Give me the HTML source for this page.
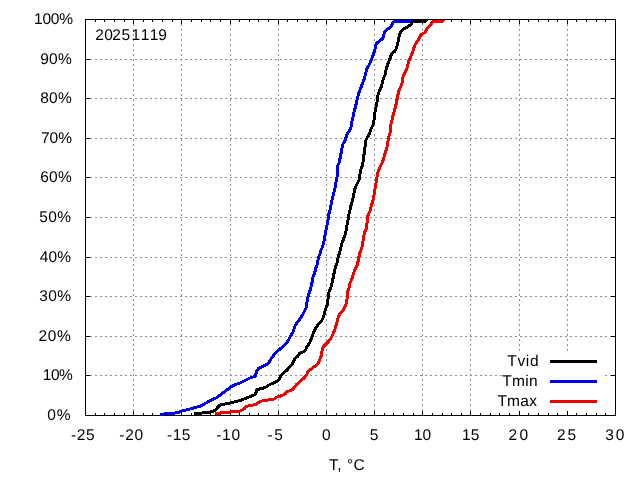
<!DOCTYPE html><html><head><meta charset="utf-8"><style>html,body{margin:0;padding:0;background:#fff;overflow:hidden}svg{display:block}</style></head><body><svg width="640" height="480" viewBox="0 0 640 480"><rect width="640" height="480" fill="#fff"/><path d="M133.5 19V415M181.5 19V415M230.5 19V415M278.5 19V415M326.5 19V415M374.5 19V415M422.5 19V415M470.5 19V415M519.5 19V415M567.5 19V415M85 375.5H615M85 336.5H615M85 296.5H615M85 257.5H615M85 217.5H615M85 177.5H615M85 138.5H615M85 98.5H615M85 59.5H615" stroke="#909090" stroke-width="1" stroke-dasharray="2 3" fill="none" shape-rendering="crispEdges"/><rect x="503" y="352" width="101" height="62" fill="#fff"/><path d="M85.5 415v-4M85.5 20v4M95.5 415v-2M95.5 20v2M104.5 415v-2M104.5 20v2M114.5 415v-2M114.5 20v2M124.5 415v-2M124.5 20v2M133.5 415v-4M133.5 20v4M143.5 415v-2M143.5 20v2M152.5 415v-2M152.5 20v2M162.5 415v-2M162.5 20v2M172.5 415v-2M172.5 20v2M181.5 415v-4M181.5 20v4M191.5 415v-2M191.5 20v2M201.5 415v-2M201.5 20v2M210.5 415v-2M210.5 20v2M220.5 415v-2M220.5 20v2M230.5 415v-4M230.5 20v4M239.5 415v-2M239.5 20v2M249.5 415v-2M249.5 20v2M258.5 415v-2M258.5 20v2M268.5 415v-2M268.5 20v2M278.5 415v-4M278.5 20v4M287.5 415v-2M287.5 20v2M297.5 415v-2M297.5 20v2M307.5 415v-2M307.5 20v2M316.5 415v-2M316.5 20v2M326.5 415v-4M326.5 20v4M336.5 415v-2M336.5 20v2M345.5 415v-2M345.5 20v2M355.5 415v-2M355.5 20v2M364.5 415v-2M364.5 20v2M374.5 415v-4M374.5 20v4M384.5 415v-2M384.5 20v2M393.5 415v-2M393.5 20v2M403.5 415v-2M403.5 20v2M413.5 415v-2M413.5 20v2M422.5 415v-4M422.5 20v4M432.5 415v-2M432.5 20v2M442.5 415v-2M442.5 20v2M451.5 415v-2M451.5 20v2M461.5 415v-2M461.5 20v2M470.5 415v-4M470.5 20v4M480.5 415v-2M480.5 20v2M490.5 415v-2M490.5 20v2M499.5 415v-2M499.5 20v2M509.5 415v-2M509.5 20v2M519.5 415v-4M519.5 20v4M528.5 415v-2M528.5 20v2M538.5 415v-2M538.5 20v2M548.5 415v-2M548.5 20v2M557.5 415v-2M557.5 20v2M567.5 415v-4M567.5 20v4M576.5 415v-2M576.5 20v2M586.5 415v-2M586.5 20v2M596.5 415v-2M596.5 20v2M605.5 415v-2M605.5 20v2M615.5 415v-4M615.5 20v4M86 415.5h4M615 415.5h-4M86 375.5h4M615 375.5h-4M86 336.5h4M615 336.5h-4M86 296.5h4M615 296.5h-4M86 257.5h4M615 257.5h-4M86 217.5h4M615 217.5h-4M86 177.5h4M615 177.5h-4M86 138.5h4M615 138.5h-4M86 98.5h4M615 98.5h-4M86 59.5h4M615 59.5h-4M86 19.5h4M615 19.5h-4" stroke="#000" stroke-width="1" fill="none" shape-rendering="crispEdges"/><rect x="85.5" y="19.5" width="530" height="396" stroke="#000" stroke-width="1" fill="none" shape-rendering="crispEdges"/><g style="font-family:&quot;Liberation Sans&quot;,Arial,sans-serif" font-size="15.5" text-rendering="geometricPrecision" fill="#000"><text x="47.3" y="419.8" letter-spacing="0.8">0%</text><text x="42.75" y="379.8" letter-spacing="-0.45">10%</text><text x="38.6" y="340.8" letter-spacing="0.6">20%</text><text x="39.3" y="300.8" letter-spacing="0.4">30%</text><text x="39.65" y="261.8" letter-spacing="0.15">40%</text><text x="39.35" y="221.8" letter-spacing="0.35">50%</text><text x="40.15" y="181.8" letter-spacing="0.35">60%</text><text x="40.95" y="142.8" letter-spacing="0.05">70%</text><text x="40.25" y="102.8" letter-spacing="0.25">80%</text><text x="40.25" y="63.8" letter-spacing="0.25">90%</text><text x="34.0" y="23.8" letter-spacing="-0.2">100%</text><text x="71.0" y="440.0" letter-spacing="0.6">-25</text><text x="119.2" y="440.0" letter-spacing="0.8">-20</text><text x="167.05" y="440.0" letter-spacing="0.45">-15</text><text x="216.15" y="440.0" letter-spacing="0.75">-10</text><text x="267.5" y="440.0" letter-spacing="1.5">-5</text><text x="321.88" y="440.0">0</text><text x="369.85" y="440.0">5</text><text x="414.0" y="440.0">10</text><text x="462.1" y="440.0">15</text><text x="508.62" y="440.0" letter-spacing="2.25">20</text><text x="557.05" y="440.0" letter-spacing="1.9">25</text><text x="605.17" y="440.0" letter-spacing="1.85">30</text><text x="328.95" y="470.0" letter-spacing="0.525">T, °C</text><text x="95.22 104.3 112.22 121.4 131.62 140.72 149.72 158.27" y="39.6">20251119</text><text x="507.2" y="365.7" letter-spacing="0.733">Tvid</text><text x="502.27" y="385.75" letter-spacing="0.317">Tmin</text><text x="497.38" y="405.75" letter-spacing="0.25">Tmax</text></g><rect x="550" y="360" width="47" height="3" fill="#000"/><rect x="550" y="380" width="47" height="3" fill="#0000f0"/><rect x="550" y="400" width="47" height="3" fill="#f00000"/><polyline points="160.02,414.22 172.02,413.52 179.02,412.22 182.02,411.02 190.02,409.02 197.02,407.02 202.02,405.52 205.02,403.52 210.02,400.72 216.02,398.02 218.02,396.52 220.02,395.02 225.02,391.52 230.02,387.52 235.02,384.52 240.02,383.02 244.02,381.02 250.02,378.02 255.52,376.02 256.52,371.02 259.02,368.02 264.02,365.72 268.02,364.02 270.02,360.52 273.02,356.02 276.52,352.02 280.02,349.02 284.02,345.52 287.02,342.32 289.02,339.02 290.02,337.02 293.02,332.02 295.02,326.02 297.02,322.52 300.02,319.02 302.52,315.02 304.52,311.02 306.52,307.02 307.02,302.02 308.02,297.02 309.52,292.02 311.02,287.02 312.52,280.02 313.02,276.52 314.52,274.02 315.52,269.02 317.02,265.02 318.02,260.02 318.52,257.02 320.02,254.02 321.02,250.02 322.52,247.02 324.02,241.02 325.02,235.02 326.02,230.02 327.02,225.02 328.02,220.02 328.52,215.02 329.52,212.02 330.52,207.52 332.02,200.02 333.52,194.02 335.02,188.02 336.02,182.02 337.02,177.02 337.52,172.02 337.52,166.02 339.02,163.02 340.52,156.02 342.02,148.02 343.02,144.02 345.52,140.02 346.52,135.02 348.52,132.02 350.52,129.02 351.52,125.02 352.02,121.02 353.02,117.02 354.02,112.02 355.52,107.02 356.52,102.02 357.52,98.02 358.52,94.02 360.02,90.02 361.52,86.02 363.02,82.02 364.52,78.02 365.52,74.52 366.52,69.02 368.52,66.02 370.52,62.02 372.02,58.02 373.52,54.02 375.02,49.02 376.02,44.02 378.02,42.02 381.02,40.02 383.02,38.02 384.02,34.02 385.02,31.02 388.02,29.02 391.02,26.52 392.52,23.02 394.02,21.32 411.02,21.22 412.02,20.02" stroke="#0000f0" stroke-width="3" fill="none" stroke-linejoin="round" shape-rendering="crispEdges"/><polyline points="215.02,414.02 222.02,412.52 230.02,412.02 240.02,411.02 244.02,409.02 246.02,406.52 250.02,405.52 256.02,404.52 259.02,402.02 262.02,401.02 268.02,400.02 274.02,399.02 277.02,397.02 282.02,395.52 285.02,394.02 287.02,391.52 292.02,390.02 294.02,388.02 296.02,385.02 300.02,381.52 304.02,378.02 306.52,375.02 308.02,371.52 311.02,369.02 314.02,367.02 317.02,364.52 318.52,362.52 320.02,359.02 321.52,355.02 322.02,351.02 323.02,347.02 328.02,342.02 331.02,338.02 333.02,334.02 335.02,329.02 336.52,324.02 338.02,318.02 339.52,314.52 342.02,311.52 344.52,308.02 346.02,304.02 347.02,299.02 347.52,292.02 349.02,288.02 350.02,283.02 351.52,280.02 353.02,275.02 354.52,270.52 356.52,267.02 357.52,264.02 358.52,259.02 359.52,254.02 361.02,250.02 362.02,247.02 363.02,241.02 364.02,235.02 365.02,231.52 366.52,228.02 367.02,223.02 367.52,217.02 368.52,214.02 370.02,211.02 371.02,207.02 372.52,202.02 374.02,195.02 375.02,189.02 376.02,183.02 377.02,177.02 378.02,172.02 379.52,168.02 381.02,165.02 382.52,162.02 384.02,157.02 385.52,152.02 387.02,147.02 388.02,141.02 389.02,136.02 390.02,133.02 390.52,128.02 391.02,124.02 392.02,120.02 392.52,117.02 394.02,112.02 395.52,107.02 396.52,102.02 397.52,97.02 398.52,92.02 400.02,88.02 401.52,85.02 402.52,81.02 403.02,77.02 404.02,74.52 405.52,72.02 407.02,68.02 408.02,64.02 409.02,60.52 411.02,56.02 413.02,51.02 414.52,46.02 416.02,43.02 418.52,40.02 420.02,36.02 422.02,34.02 425.02,32.52 426.52,29.02 428.02,27.02 430.52,25.02 432.02,22.52 434.02,21.02 443.02,21.02 443.02,20.02" stroke="#f00000" stroke-width="3" fill="none" stroke-linejoin="round" shape-rendering="crispEdges"/><polyline points="194.02,413.52 205.02,412.82 210.02,412.02 215.02,410.52 218.02,407.02 220.02,405.02 225.02,404.02 230.02,403.02 236.02,401.52 240.02,400.52 245.02,398.52 250.02,396.52 255.02,394.52 256.52,392.02 257.02,389.52 262.02,388.52 266.02,387.02 270.02,384.32 275.02,382.52 279.02,380.02 280.52,376.52 283.02,373.02 287.02,370.02 290.02,366.52 293.02,363.02 295.02,358.52 297.52,356.52 299.52,353.52 303.02,352.02 305.52,350.02 307.02,346.52 309.52,343.02 311.52,338.52 313.02,334.02 314.52,330.02 318.02,324.52 321.52,321.02 323.52,317.02 324.52,312.52 326.02,308.02 327.52,304.02 328.02,299.02 329.02,292.02 331.02,287.02 332.52,281.02 333.52,276.02 334.52,271.02 335.52,267.02 337.02,263.02 338.02,258.02 339.52,253.02 341.02,247.02 342.02,243.02 343.52,239.02 345.02,235.02 346.02,231.02 347.02,225.02 348.02,220.02 348.52,216.02 349.52,212.02 350.52,207.52 352.02,202.02 353.52,196.02 354.52,190.02 356.02,186.02 358.02,182.02 359.52,179.02 360.02,174.02 361.02,169.02 362.52,165.02 363.52,159.02 364.52,150.02 365.52,144.02 366.02,140.02 367.52,137.02 369.52,134.02 370.52,130.02 372.02,127.02 373.52,124.02 374.02,120.02 374.52,116.02 375.02,112.02 376.02,107.02 377.02,102.02 377.52,97.02 378.52,93.02 380.02,89.52 381.52,86.02 382.52,82.02 383.52,78.02 385.02,75.02 386.02,70.02 387.52,65.02 389.02,61.02 391.02,55.52 392.52,53.02 395.02,51.02 396.52,48.02 397.52,44.52 398.52,39.52 399.52,35.02 401.02,31.02 404.02,28.72 408.02,26.52 411.02,24.52 412.52,22.02 413.02,21.02 426.02,21.02 426.02,20.02" stroke="#000" stroke-width="3" fill="none" stroke-linejoin="round" shape-rendering="crispEdges"/></svg></body></html>
